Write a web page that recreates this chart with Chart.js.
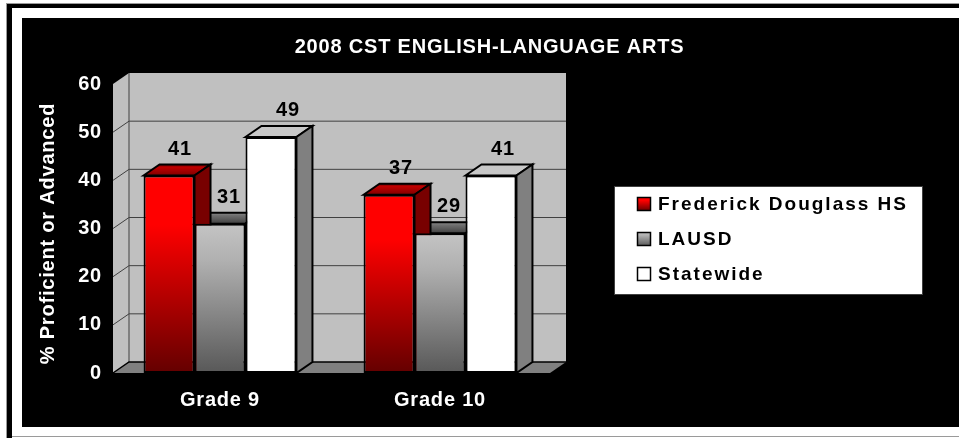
<!DOCTYPE html>
<html lang="en">
<head>
  <meta charset="UTF-8" />
  <title>2008 CST English-Language Arts</title>
  <script src="https://cdn.jsdelivr.net/npm/chart.js@4"></script>
  <style>
    html, body { margin: 0; padding: 0; background: #fff; }
    #chart { display: block; }
  </style>
</head>
<body>
  <canvas id="chart" width="959" height="438"></canvas>

  <script>
    // data
    const categories = ["Grade 9", "Grade 10"];
    const seriesNames = ["Frederick Douglass HS", "LAUSD", "Statewide"];
    const douglassValues = [41, 37];
    const lausdValues = [31, 29];
    const statewideValues = [49, 41];
    const yTicks = [0, 10, 20, 30, 40, 50, 60];
    const chartTitle = "2008 CST ENGLISH-LANGUAGE ARTS";
    const yTitle = "% Proficient or Advanced";

    const FONT = '"Liberation Sans", Arial, sans-serif';
    // 3d depth of the bars and walls
    const DX = 16, DY = -11;

    // colours per series: gradient stops of the front face, top face, side face
    const looks = [
      { front: ["#ff0000", "#ff0000", "#640000"], top: ["#700000", "#c00000", "#800000"], side: "#780000" },
      { front: ["#c4c4c4", "#b0b0b0", "#585858"], top: ["#8c8c8c", "#707070", "#404040"], side: "#606060" },
      { front: ["#ffffff", "#ffffff", "#ffffff"], top: ["#c8c8c8", "#c8c8c8", "#c8c8c8"], side: "#808080" }
    ];

    function vGradient(ctx, y0, y1, stops) {
      const g = ctx.createLinearGradient(0, y0, 0, y1);
      g.addColorStop(0, stops[0]);
      g.addColorStop(0.25, stops[1]);
      g.addColorStop(1, stops[2]);
      return g;
    }

    function poly(ctx, pts, fill, stroke, lw) {
      ctx.beginPath();
      pts.forEach((p, i) => i ? ctx.lineTo(p[0], p[1]) : ctx.moveTo(p[0], p[1]));
      ctx.closePath();
      if (fill) { ctx.fillStyle = fill; ctx.fill(); }
      if (stroke) { ctx.strokeStyle = stroke; ctx.lineWidth = lw || 1; ctx.stroke(); }
    }

    // black panel with the white frame behind everything
    const framePlugin = {
      id: "frame",
      beforeDraw(chart) {
        const c = chart.ctx;
        c.save();
        c.fillStyle = "#fff";
        c.fillRect(0, 0, 959, 438);
        c.fillStyle = "#9a9a9a";
        c.fillRect(6, 3, 953, 1);
        c.fillRect(6, 3, 1, 435);
        c.fillRect(12, 436, 947, 1);
        c.fillStyle = "#000";
        c.fillRect(7, 4, 952, 4);
        c.fillRect(7, 4, 5, 434);
        c.fillRect(22, 18, 937, 409);
        c.restore();
        // same spacing for all text on the canvas
        c.letterSpacing = "0.8px";
      }
    };

    // walls and floor from the scales
    const wallsPlugin = {
      id: "walls",
      beforeDatasetsDraw(chart) {
        const c = chart.ctx, y = chart.scales.y;
        const { left, right } = chart.chartArea;
        const wl = left + 3;
        const top = y.getPixelForValue(60), base = y.getPixelForValue(0);
        c.save();
        // back wall
        poly(c, [[wl + DX, top + DY], [right + DX, top + DY], [right + DX, base + DY], [wl + DX, base + DY]], "#c0c0c0");
        // left wall
        poly(c, [[wl, top], [wl + DX, top + DY], [wl + DX, base + DY], [wl, base]], "#c0c0c0");
        // grid lines on the back and left wall
        c.strokeStyle = "#404040";
        c.lineWidth = 1;
        yTicks.slice(1).forEach(v => {
          const py = y.getPixelForValue(v);
          c.beginPath();
          if (v < 60) {
            c.moveTo(wl, py);
            c.lineTo(wl + DX, py + DY);
          }
          c.lineTo(right + DX, py + DY);
          c.stroke();
        });
        c.strokeStyle = "#404040";
        c.beginPath();
        c.moveTo(wl + DX, top + DY);
        c.lineTo(wl + DX, base + DY);
        c.stroke();
        // floor
        poly(c, [[wl, base], [wl + DX, base + DY], [right + DX, base + DY], [right, base]], "#808080");
        c.strokeStyle = "#000";
        c.lineWidth = 1.5;
        c.beginPath();
        c.moveTo(wl, base);
        c.lineTo(wl + DX, base + DY);
        c.lineTo(right + DX, base + DY);
        c.stroke();

        // top and side faces of the bars, back series first
        for (let d = chart.data.datasets.length - 1; d >= 0; d--) {
          chart.getDatasetMeta(d).data.forEach(bar => {
            const l = bar.x - bar.width / 2, r = bar.x + bar.width / 2;
            poly(c, [[l, bar.y], [l + DX, bar.y + DY], [r + DX, bar.y + DY], [r, bar.y]],
              vGradient(c, bar.y + DY, bar.y, looks[d].top), "#000", 2);
            poly(c, [[r, bar.y], [r + DX, bar.y + DY], [r + DX, bar.base + DY], [r, bar.base]],
              looks[d].side, "#000", 2);
          });
        }
        c.restore();
      }
    };

    // value labels, legend box
    const labelsPlugin = {
      id: "labelsAndLegend",
      afterDraw(chart) {
        const c = chart.ctx;
        // labels sit above the 3d top, a little to the right of the bar centre
        const nudge = [[11, 12], [9, 9], [17, 12]];
        c.save();
        c.font = "bold 20px " + FONT;
        c.fillStyle = "#000";
        c.textAlign = "center";
        c.textBaseline = "middle";
        chart.data.datasets.forEach((ds, d) => {
          chart.getDatasetMeta(d).data.forEach((bar, i) => {
            c.fillText(String(ds.data[i]), bar.x + nudge[d][i], bar.y - 26.5);
          });
        });

        // legend
        c.fillStyle = "#fff";
        c.strokeStyle = "#404040";
        c.lineWidth = 1;
        c.fillRect(615, 187, 307, 107);
        c.strokeRect(614.5, 186.5, 308, 108);
        const rows = [204, 239, 274];
        c.textAlign = "left";
        c.font = "bold 19px " + FONT;
        c.letterSpacing = "2px";
        seriesNames.forEach((name, i) => {
          c.fillStyle = vGradient(c, rows[i] - 7, rows[i] + 7, looks[i].front);
          c.fillRect(637, rows[i] - 7, 14, 14);
          c.strokeStyle = "#000";
          c.lineWidth = 1.5;
          c.strokeRect(637.5, rows[i] - 6.5, 13, 13);
          c.fillStyle = "#000";
          c.fillText(name, 658, rows[i] + 1);
        });
        c.restore();
      }
    };

    function seriesFill(d) {
      return context => {
        const chart = context.chart;
        if (context.dataIndex === undefined || !chart.chartArea) return looks[d].front[0];
        const y = chart.scales.y;
        return vGradient(chart.ctx, y.getPixelForValue(context.raw), y.getPixelForValue(0), looks[d].front);
      };
    }

    const allValues = [douglassValues, lausdValues, statewideValues];

    new Chart(document.getElementById("chart"), {
      type: "bar",
      data: {
        labels: categories,
        datasets: seriesNames.map((name, d) => ({
          label: name,
          data: allValues[d],
          backgroundColor: seriesFill(d),
          borderColor: "#000",
          borderWidth: 2,
          borderSkipped: false,
          categoryPercentage: 0.695,
          barPercentage: 1
        }))
      },
      options: {
        responsive: false,
        animation: false,
        devicePixelRatio: 1,
        layout: { padding: { left: 0, right: 409, top: 0, bottom: 0 } },
        plugins: {
          legend: { display: false },
          tooltip: { enabled: false },
          title: {
            display: true,
            text: chartTitle,
            color: "#fff",
            font: { family: FONT, size: 20, weight: "bold" },
            padding: { top: 35, bottom: 25 }
          }
        },
        scales: {
          x: {
            grid: { display: false, drawTicks: false },
            border: { display: false },
            ticks: { color: "#fff", padding: 15, maxRotation: 0, font: { family: FONT, size: 20, weight: "bold" } },
            afterFit(scale) { scale.height = 65; }
          },
          y: {
            min: 0,
            max: 60,
            afterBuildTicks(scale) { scale.ticks = yTicks.map(v => ({ value: v })); },
            afterFit(scale) { scale.width = 110; },
            grid: { display: false, drawTicks: false },
            border: { display: false },
            ticks: { color: "#fff", padding: 8, font: { family: FONT, size: 20, weight: "bold" } },
            title: {
              display: true,
              text: yTitle,
              color: "#fff",
              font: { family: FONT, size: 20, weight: "bold" },
              padding: { top: 36, bottom: 0 }
            }
          }
        }
      },
      plugins: [framePlugin, wallsPlugin, labelsPlugin, {
        id: "titleShift",
        afterLayout(chart) {
          // title sits over the whole panel, not the plot
          chart.titleBlock.left = 0;
          chart.titleBlock.right = 979;
          // axis title sits a bit below the middle of the axis
          const yScale = chart.scales.y;
          const drawTitle = yScale.drawTitle;
          yScale.drawTitle = function () {
            chart.ctx.save();
            chart.ctx.translate(0, 5);
            drawTitle.call(this);
            chart.ctx.restore();
          };
        }
      }]
    });
  </script>
</body>
</html>
